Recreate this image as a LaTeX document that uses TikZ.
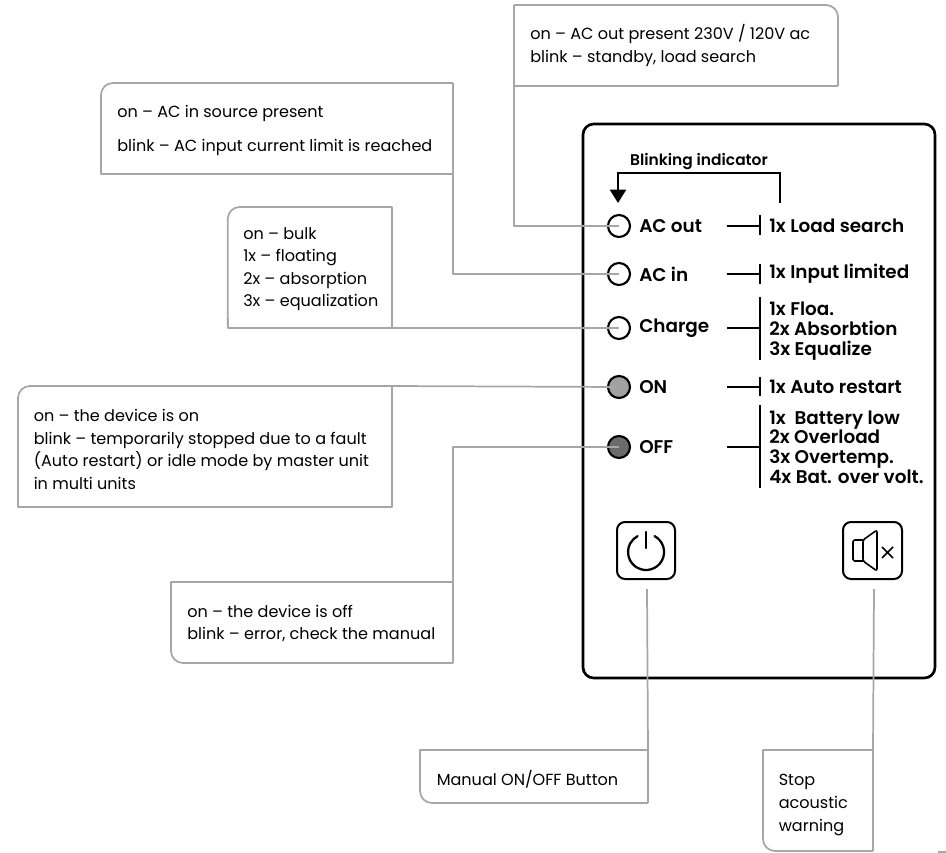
\documentclass[tikz,border=0pt]{standalone}
\usepackage{fontspec}
\setmainfont{Poppins}[BoldFont={Poppins SemiBold}]
\usetikzlibrary{arrows.meta,calc}
\tikzset{
  x=0.75pt,y=-0.75pt,
  callout/.style 2 args={rectangle,inner sep=0pt,outer sep=0pt,
    minimum width=#1*0.75pt,minimum height=#2*0.75pt},
  body/.style={anchor=west,inner sep=0pt,align=left,
    font=\fontsize{12.05}{16.9}\selectfont,text=black},
  outline/.style={draw=wire,line width=1.3pt,line join=round},
  link/.style={draw=wire,line width=1.3pt,line join=round},
  led/.style={circle,draw=black,line width=1.6pt,minimum size=16.5pt,inner sep=0pt,outer sep=0pt},
  lab/.style={anchor=west,inner sep=0pt,align=left,font=\fontsize{13.8}{15}\selectfont\bfseries},
  info/.style={anchor=west,inner sep=0pt,align=left,font=\fontsize{13.8}{14.8}\selectfont\bfseries},
  bar/.style={draw=black,line width=1.6pt},
  btn/.style={draw=black,line width=1.5pt,rounded corners=6pt},
}
\definecolor{wire}{HTML}{A6A6A6}
\begin{document}
\begin{tikzpicture}
\useasboundingbox (0,0) rectangle (946,853);
% panel
\draw[black,line width=2pt,rounded corners=8pt] (583,124) rectangle (935,678);
% callouts
\node[callout={324}{81}] (cOut) at (676,45.5) {};
\node[callout={352}{91}] (cIn) at (277,128.5) {};
\node[callout={164.5}{121}] (cChg) at (310,267.5) {};
\node[callout={374}{121}] (cOn) at (205,446.5) {};
\node[callout={282}{81}] (cOff) at (312,622.5) {};
\node[callout={228}{53}] (cMan) at (534,776.5) {};
\node[callout={110}{101}] (cStop) at (818,800.5) {};
% callout texts
\node[body] (tOut) at (530,45.5) {on – AC out present 230V / 120V ac\\blink – standby, load search};
\node[body] (tIn) at (117,130.5) {on – AC in source present\\[8pt]blink – AC input current limit is reached};
\node[body] (tChg) at (243,269) {on – bulk\\1x – floating\\2x – absorption\\3x – equalization};
\node[body] (tOn) at (33.5,449.5) {on – the device is on\\blink – temporarily stopped due to a fault\\(Auto restart) or idle mode by master unit\\in multi units};
\node[body] (tOff) at (187,623.5) {on – the device is off\\blink – error, check the manual};
\node[body] (tMan) at (436.5,779) {Manual ON/OFF Button};
\node[body] (tStop) at (778.5,805) {Stop\\acoustic\\warning};
% callout outlines
\draw[outline,rounded corners=9pt] (cOut.north west) -- (cOut.north east) -- (cOut.south east);
\draw[outline] (cOut.north west) -- (cOut.south west) -- (cOut.south east);
\draw[outline,rounded corners=9pt] (cIn.south west) -- (cIn.north west) -- (cIn.north east);
\draw[outline] (cIn.north east) -- (cIn.south east) -- (cIn.south west) -- ($(cIn.south west)+(0,-10)$);
\draw[outline,rounded corners=9pt] (cChg.south west) -- (cChg.north west) -- (cChg.north east);
\draw[outline] (cChg.north east) -- (cChg.south east) -- (cChg.south west) -- ($(cChg.south west)+(0,-10)$);
\draw[outline,rounded corners=9pt] (cOn.south west) -- (cOn.north west) -- (cOn.north east);
\draw[outline] (cOn.north east) -- (cOn.south east) -- (cOn.south west) -- ($(cOn.south west)+(0,-10)$);
\draw[outline,rounded corners=9pt] (cOff.north west) -- (cOff.south west) -- (cOff.south east);
\draw[outline] (cOff.south east) -- (cOff.north east) -- (cOff.north west) -- ($(cOff.north west)+(0,10)$);
\draw[outline,rounded corners=9pt] (cMan.north west) -- (cMan.south west) -- (cMan.south east);
\draw[outline] (cMan.south east) -- (cMan.north east) -- (cMan.north west) -- ($(cMan.north west)+(0,10)$);
\draw[outline,rounded corners=9pt] (cStop.north west) -- (cStop.south west) -- (cStop.south east);
\draw[outline] (cStop.south east) -- (cStop.north east) -- (cStop.north west) -- ($(cStop.north west)+(0,10)$);
% LEDs
\node[led] (ledOut) at (619,226) {};
\node[led] (ledIn) at (619,274) {};
\node[led] (ledChg) at (619,328) {};
\node[led,fill=black!37] (ledOn) at (619,387) {};
\node[led,fill=black!58] (ledOff) at (619,447) {};
% labels
\node[lab] (lOut) at (639,226) {AC out};
\node[lab] (lIn) at (639,274) {AC in};
\node[lab] (lChg) at (639,328) {Charge};
\node[lab] (lOn) at (639,387) {ON};
\node[lab] (lOff) at (639,447) {OFF};
\node[info] (iOut) at (769,226) {1x Load search};
\node[info] (iIn) at (769,274) {1x Input limited};
\node[info] (iChg) at (769,331) {1x Floa.\\2x Absorbtion\\3x Equalize};
\node[info] (iOn) at (769,387) {1x Auto restart};
\node[info] (iOff) at (769,447) {1x\ \ Battery low\\2x Overload\\3x Overtemp.\\4x Bat. over volt.};
\node[anchor=center,inner sep=0pt,font=\fontsize{11.6}{13}\selectfont\bfseries] (blink) at (699,162) {Blinking indicator};
% connectors from callouts to LEDs
\draw[link] (cOut.south west) |- (ledOut.center);
\draw[link] (cIn.south east) |- (ledIn.center);
\draw[link] (cChg.south east) -- (ledChg.center);
\draw[link] (cOn.north east) -- (ledOn.center);
\draw[link] (cOff.north east) |- (ledOff.center);
% brackets
\foreach \n/\y/\a/\b in {Out/226/215/235,In/274/264/284,Chg/328/297/360,On/387/377/396,Off/447/405/488}{
  \coordinate (s\n) at (727,\y);
  \coordinate (e\n) at (760,\y);
  \draw[bar] (s\n) -- (e\n);
  \draw[bar] (760,\a) -- (760,\b);
}
% blinking arrow
\coordinate (blinkFrom) at (780,203);
\coordinate (blinkTo) at (618,203);
\draw[black,line width=1.6pt,-{Triangle[width=12pt,length=10pt]},line join=miter] (blinkFrom) -- (780,173) -- (618,173) -- (blinkTo);
% buttons
\draw[btn] (617,522) rectangle (675,579);
\draw[black,line width=1.7pt,line cap=round] (646,532) -- (646,548);
\draw[black,line width=1.7pt,line cap=round] (654.5,536.1) arc[start angle=62,end angle=-242,radius=13.5pt];
\draw[btn] (843,522) rectangle (902,579);
\draw[black,line width=1.2pt,line join=round,rounded corners=1.2pt] (863,540) -- (853,540) -- (853,561) -- (863,561);
\draw[black,line width=1.2pt,line join=round,rounded corners=1.6pt] (863,540) -- (877,530) -- (877,571) -- (863,561) -- cycle;
\draw[black,line width=1.2pt] (882,547) -- (893,558) (893,547) -- (882,558);
% button connectors
\coordinate (pwrEnd) at (647,589);
\coordinate (muteEnd) at (874,589);
\draw[link] (pwrEnd) -- (cMan.north east);
\draw[link] (muteEnd) -- (cStop.north east);
% fragment at the lower right edge
\draw[draw=wire,line width=1pt] (938,852) -- (946,852);
\end{tikzpicture}
\end{document}
